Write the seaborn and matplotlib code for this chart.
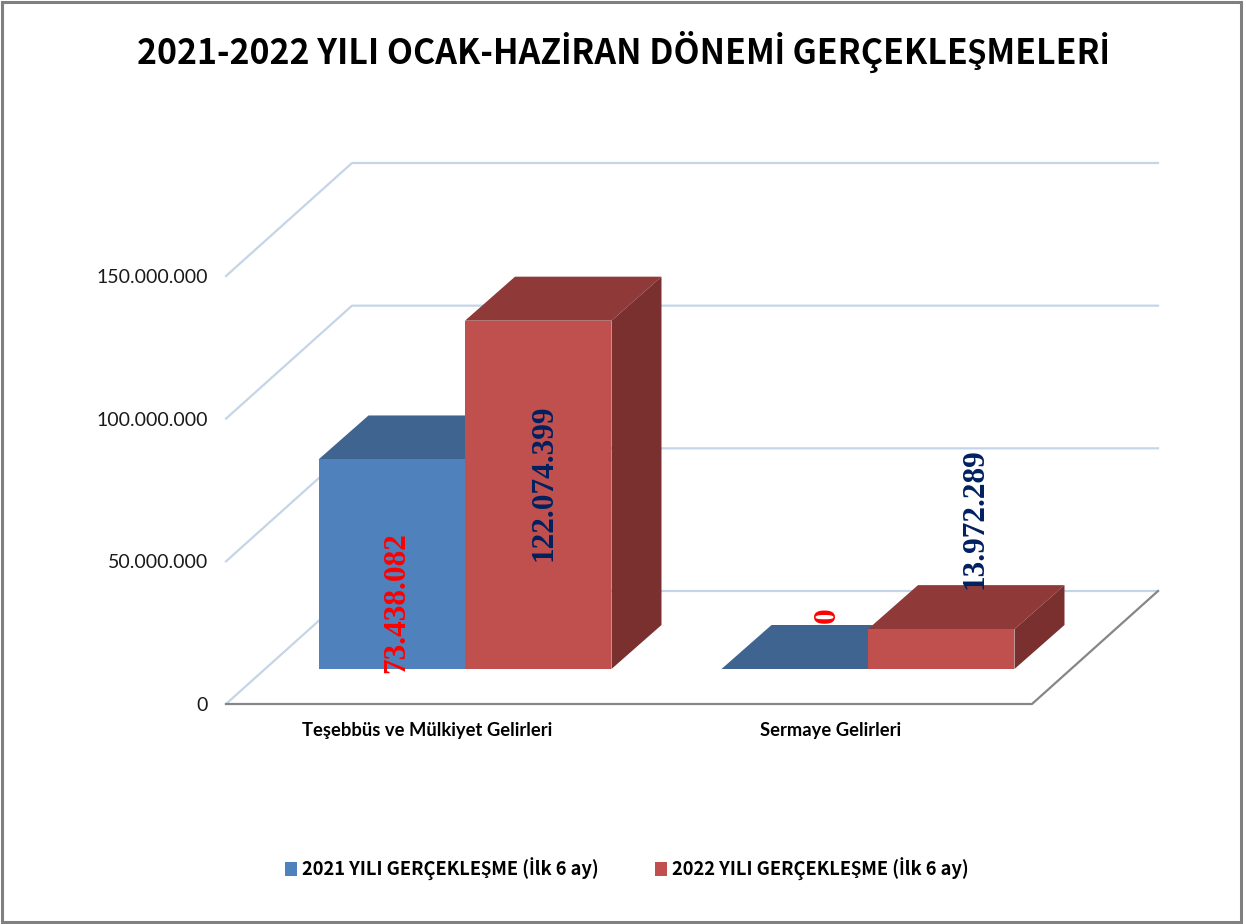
import matplotlib
matplotlib.use('Agg')
import matplotlib.pyplot as plt
import pandas as pd
import seaborn as sns
from matplotlib.lines import Line2D
from matplotlib.patches import Polygon, Rectangle
from matplotlib.transforms import Affine2D, IdentityTransform

# values
categories = ['Teşebbüs ve Mülkiyet Gelirleri', 'Sermaye Gelirleri']
series_names = ['2021 YILI GERÇEKLEŞME (İlk 6 ay)', '2022 YILI GERÇEKLEŞME (İlk 6 ay)']
values_2021 = [73438082, 0]
values_2022 = [122074399, 13972289]
yticks = [0, 50000000, 100000000, 150000000]

colors = ['#4F81BD', '#C0504D']
top_colors = ['#3F6490', '#8F3A38']
side_colors = ['#3A5A80', '#7A302F']
label_colors = ['#FF0000', '#002060']
WALL = '#C5D5E8'
FLOOR = '#868686'
NARROW = ['Noto Sans CJK SC', 'Lato']

# pseudo 3d offsets, in pixels
WALL_DX, WALL_DY = 126, 113
BAR_SHIFT = (37.5, 35)
BAR_DX, BAR_DY = 50, 44
# label offset from the top centre of each bar, in pixels
label_offsets = [[(5, -143), (32, 54)], [(6, -162), (34, 111)]]

df = pd.DataFrame({
    'cat': categories * 2,
    'serie': [series_names[0]] * 2 + [series_names[1]] * 2,
    'val': values_2021 + values_2022,
})

W, H = 1246, 924
fig = plt.figure(figsize=(W / 100, H / 100), dpi=100, facecolor='white')
ax = fig.add_axes([226 / W, (H - 704) / H, 806 / W, 428 / H])
ax.patch.set_alpha(0)

sns.barplot(data=df, x='cat', y='val', hue='serie', palette=colors, width=0.727,
            gap=0, saturation=1, errorbar=None, ax=ax)
ax.set_xlim(-0.5, 1.5)
ax.set_ylim(0, 150000000)
ax.set_xlabel('')
ax.set_ylabel('')
ax.set_yticks(yticks)
ax.set_yticklabels([f'{v:,.0f}'.replace(',', '.') for v in yticks],
                   family='Lato', fontsize=14, color='#1a1a1a')
ax.set_xticks(range(len(categories)))
ax.set_xticklabels(categories, family='Lato', fontsize=13.2, fontweight='bold', color='black')
ax.tick_params(axis='y', length=0, pad=13)
ax.tick_params(axis='x', length=0, pad=13)
sns.despine(ax=ax, left=True, bottom=True)
ax.get_legend().remove()

fig.canvas.draw()
px = IdentityTransform()


def to_px(x, v):
    return ax.transData.transform((x, v))


# back wall and floor
for v in yticks:
    x0, y0 = to_px(-0.5, v)
    x1, y1 = to_px(1.5, v)
    ax.add_line(Line2D([x0, x0 + WALL_DX, x1 + WALL_DX], [y0, y0 + WALL_DY, y0 + WALL_DY],
                       transform=px, color=WALL, lw=1.6, zorder=1, clip_on=False))
x0, y0 = to_px(-0.5, 0)
x1, y1 = to_px(1.5, 0)
ax.add_line(Line2D([x0, x1, x1 + WALL_DX], [y0, y1, y1 + WALL_DY],
                   transform=px, color=FLOOR, lw=1.6, zorder=1.5, clip_on=False))

# bars: keep seaborn's fronts, shift them back and add top and side faces
shift = ax.transData + Affine2D().translate(*BAR_SHIFT)
z = 3
for s, container in enumerate(ax.containers):
    for c, bar in enumerate(container):
        bar.set_transform(shift)
        bar.set_clip_on(False)
        bar.set_zorder(z + 2)
        xl, yb = shift.transform((bar.get_x(), 0))
        xr, yt = shift.transform((bar.get_x() + bar.get_width(), bar.get_height()))
        ax.add_patch(Polygon([(xl, yt), (xr, yt), (xr + BAR_DX, yt + BAR_DY), (xl + BAR_DX, yt + BAR_DY)],
                             transform=px, fc=top_colors[s], ec='none', zorder=z, clip_on=False))
        if bar.get_height() > 0:
            ax.add_patch(Polygon([(xr, yb), (xr, yt), (xr + BAR_DX, yt + BAR_DY), (xr + BAR_DX, yb + BAR_DY)],
                                 transform=px, fc=side_colors[s], ec='none', zorder=z + 1, clip_on=False))
        dx, dy = label_offsets[s][c]
        ax.text((xl + xr) / 2 + dx, yt + dy, f'{bar.get_height():,.0f}'.replace(',', '.'),
                transform=px, rotation=90, ha='center', va='center', family='Liberation Serif',
                fontweight='bold', fontsize=22.5, color=label_colors[s], zorder=20, clip_on=False)
    z += 3

handles = [Rectangle((0, 0), 1, 1, fc=c, ec='none') for c in colors]
fig.legend(handles, series_names, loc='center', bbox_to_anchor=(627 / W, (H - 869) / H),
           ncol=2, frameon=False, handlelength=0.65, handleheight=0.77, handletextpad=0.27,
           columnspacing=3.06, prop={'family': NARROW, 'weight': 'bold', 'size': 13.2})

fig.text(623 / W, (H - 52) / H, '2021-2022 YILI OCAK-HAZİRAN DÖNEMİ GERÇEKLEŞMELERİ',
         ha='center', va='center', family=NARROW, fontweight='bold', fontsize=24.4, color='black')

fig.add_artist(Rectangle((2 / W, 2 / H), 1239 / W, 920 / H, transform=fig.transFigure,
                         fill=False, ec='#808080', lw=2.2))

fig.savefig('out.png', dpi=100)
